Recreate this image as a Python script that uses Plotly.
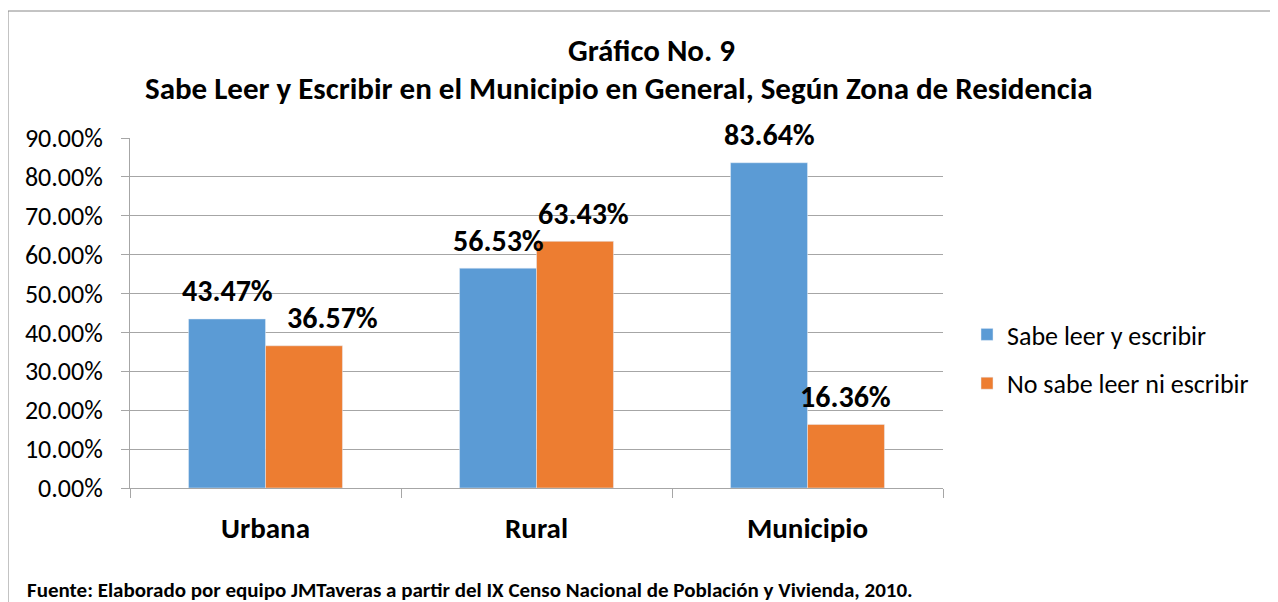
import plotly.graph_objects as go

categories = ["Urbana", "Rural", "Municipio"]
sabe = [43.47, 56.53, 83.64]
no_sabe = [36.57, 63.43, 16.36]
series_names = ["Sabe leer y escribir", "No sabe leer ni escribir"]
y_ticks = [0, 10, 20, 30, 40, 50, 60, 70, 80, 90]

FONT = "Carlito, Lato, 'Liberation Sans', sans-serif"
BLUE = "#5B9BD5"
ORANGE = "#ED7D31"
GRID = "#A6A6A6"

# page body adds 8px offset; plot area in screen px: x 130..943, y 138..488
def px(sx):
    return (sx - 130) / 813

def py(sy):
    return (488 - sy) / 350

fig = go.Figure()
fig.add_trace(go.Bar(x=categories, y=sabe, name=series_names[0], marker_color=BLUE,
                     legendgroup="a"))
fig.add_trace(go.Bar(x=categories, y=no_sabe, name=series_names[1], marker_color=ORANGE,
                     legendgroup="b"))

bargap = 0.432
half = (1 - bargap) / 4
nudge = {1: [29, 9, 0]}
for s, vals in enumerate([sabe, no_sabe]):
    off = -half if s == 0 else half
    for i, v in enumerate(vals):
        fig.add_annotation(x=i + off, y=v, text=f"{v:.2f}%", showarrow=False,
                           xref="x", yref="y", yanchor="middle", yshift=28,
                           xshift=nudge.get(s, [0, 0, 0])[i],
                           font=dict(family=FONT, size=30, color="black", weight="bold"))

fig.update_layout(
    width=1270, height=594,
    margin=dict(l=122, r=335, t=130, b=114),
    paper_bgcolor="white", plot_bgcolor="white",
    barmode="group", bargap=bargap, bargroupgap=0,
    font=dict(family=FONT, color="black"),
    showlegend=True,
    legend=dict(x=px(967), y=py(359), xanchor="left", yanchor="middle",
                font=dict(family=FONT, size=26, color="black"),
                itemwidth=30, tracegroupgap=12, bgcolor="rgba(0,0,0,0)"),
    xaxis=dict(showline=True, linecolor=GRID, linewidth=1, ticks="outside",
               tickson="boundaries", ticklen=9, tickcolor=GRID, showgrid=False,
               tickfont=dict(family=FONT, size=29, color="black", weight="bold"),
               ticklabelstandoff=14),
    yaxis=dict(range=[0, 90], tickvals=y_ticks, ticktext=[f"{t:.2f}%" for t in y_ticks],
               showline=True, linecolor=GRID, linewidth=1, ticks="outside",
               ticklen=8, tickcolor=GRID, showgrid=True, gridcolor=GRID, gridwidth=1,
               zeroline=False, tickfont=dict(family=FONT, size=26, color="black"),
               ticklabelstandoff=13),
)

# outer chart border (right and bottom edges lie outside the picture)
fig.add_shape(type="rect", xref="paper", yref="paper",
              x0=px(8), x1=px(1300), y0=py(650), y1=py(11),
              line=dict(color="#888888", width=1), layer="below")

fig.add_annotation(xref="paper", yref="paper", x=px(651), y=py(50),
                   text="Gráfico No. 9", showarrow=False, xanchor="center", yanchor="middle",
                   font=dict(family=FONT, size=31, color="black", weight="bold"))
fig.add_annotation(xref="paper", yref="paper", x=px(619), y=py(88),
                   text="Sabe Leer y Escribir en el Municipio en General, Según Zona de Residencia",
                   showarrow=False, xanchor="center", yanchor="middle",
                   font=dict(family=FONT, size=31, color="black", weight="bold"))
fig.add_annotation(xref="paper", yref="paper", x=px(25), y=py(590),
                   text="Fuente: Elaborado por equipo JMTaveras a partir del IX Censo Nacional de Población y Vivienda, 2010.",
                   showarrow=False, xanchor="left", yanchor="middle",
                   font=dict(family=FONT, size=21, color="black", weight="bold"))

fig.write_html("out.html")
